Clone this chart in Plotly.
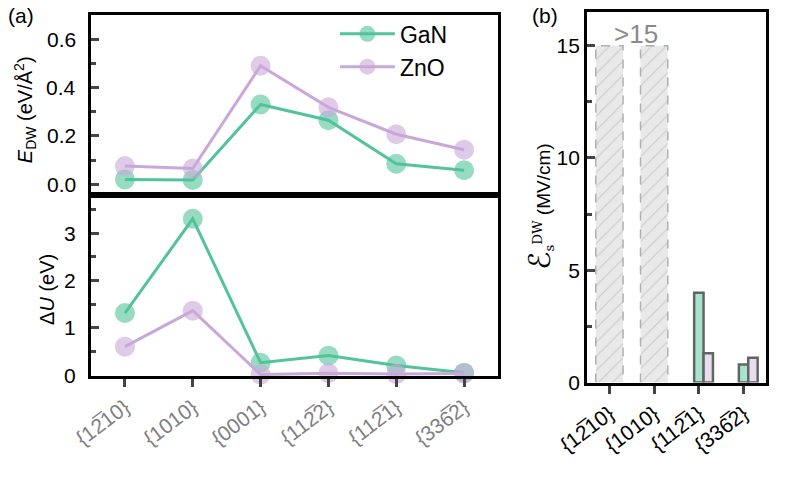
import plotly.graph_objects as go

OL = "\u0305"
planes_a = ["{12" + OL + "10}", "{1010}", "{0001}", "{112" + OL + "2}", "{112" + OL + "1}", "{336" + OL + "2}"]
E_gan = [0.02, 0.018, 0.33, 0.265, 0.085, 0.058]
E_zno = [0.075, 0.065, 0.49, 0.318, 0.207, 0.143]
dU_gan = [1.31, 3.30, 0.26, 0.41, 0.20, 0.05]
dU_zno = [0.60, 1.36, 0.01, 0.04, 0.02, 0.03]
E_ticks = [0.0, 0.2, 0.4, 0.6]
dU_ticks = [0, 1, 2, 3]

planes_b = ["{12" + OL + "10}", "{1010}", "{112" + OL + "1}", "{336" + OL + "2}"]
field_gan = [None, None, 4.0, 0.8]
field_zno = [None, None, 1.3, 1.1]
field_bound = [15, 15, None, None]
field_ticks = [0, 5, 10, 15]

GAN = "#52c39b"
ZNO = "#c9a8d9"
GAN_M = "rgba(82,195,155,0.6)"
ZNO_M = "rgba(201,168,217,0.6)"
FONT = "Liberation Sans, Arial, sans-serif"

xa = list(range(len(planes_a)))
xb = list(range(len(planes_b)))

fig = go.Figure()

def add_line(y, color, mcolor, name, xaxis, yaxis, show):
    fig.add_trace(go.Scatter(
        x=xa, y=y, mode="lines+markers", name=name, showlegend=show,
        line=dict(color=color, width=3),
        marker=dict(size=20, color=mcolor, line=dict(width=0)),
        xaxis=xaxis, yaxis=yaxis, cliponaxis=False))

add_line(E_gan, GAN, GAN_M, "GaN", "x", "y", True)
add_line(E_zno, ZNO, ZNO_M, "ZnO", "x", "y", True)
add_line(dU_gan, GAN, GAN_M, "GaN", "x2", "y2", False)
add_line(dU_zno, ZNO, ZNO_M, "ZnO", "x2", "y2", False)

# panel (b) bars
wb = 0.61
fig.add_trace(go.Bar(
    x=xb, y=field_bound, width=wb, showlegend=False,
    marker=dict(color="#e9e9e9", line=dict(width=0),
                pattern=dict(shape="/", fgcolor="#a8a8a8", bgcolor="#e9e9e9", size=10, solidity=0.1)),
    xaxis="x3", yaxis="y3"))
ox, oy = [], []
for i, v in enumerate(field_bound):
    if v is None:
        continue
    ox += [i - wb / 2, i - wb / 2, i + wb / 2, i + wb / 2, None]
    oy += [0, v, v, 0, None]
fig.add_trace(go.Scatter(x=ox, y=oy, mode="lines", showlegend=False,
                         line=dict(color="#b0b0b0", width=1.5, dash="dash"),
                         xaxis="x3", yaxis="y3", cliponaxis=False))

bw = 0.21
fig.add_trace(go.Bar(
    x=xb, y=field_gan, width=bw, offset=-bw / 2, showlegend=False,
    marker=dict(color="#a9e3cd", line=dict(color="#5f6663", width=2.5)),
    xaxis="x3", yaxis="y3"))
fig.add_trace(go.Bar(
    x=xb, y=field_zno, width=bw, offset=bw / 2, showlegend=False,
    marker=dict(color="#e8dcef", line=dict(color="#5f6663", width=2.5)),
    xaxis="x3", yaxis="y3"))

base = dict(showline=True, linecolor="black", linewidth=3, mirror=True,
            showgrid=False, zeroline=False, automargin=False)
tf = dict(family=FONT, size=21, color="black")

# y tick labels of panel (a) as annotations, placed a bit further from the frame
tick_ann = []
for v in E_ticks:
    tick_ann.append(dict(text=f"{v:.1f}", x=0.099, y=v, xref="paper", yref="y",
                         xanchor="right", yanchor="middle", showarrow=False, font=tf))
for v in dU_ticks:
    tick_ann.append(dict(text=f"{v}", x=0.099, y=v, xref="paper", yref="y2",
                         xanchor="right", yanchor="middle", showarrow=False, font=tf))

fig.update_layout(
    width=788, height=494, margin=dict(l=0, r=0, t=0, b=0),
    plot_bgcolor="white", paper_bgcolor="white",
    font=dict(family=FONT, size=20, color="black"),
    barmode="overlay",
    showlegend=True,
    legend=dict(x=0.425, y=0.975, xanchor="left", yanchor="top",
                bgcolor="rgba(0,0,0,0)", font=dict(size=23, family=FONT),
                tracegroupgap=0, itemwidth=55),
    xaxis=dict(domain=[0.1155, 0.632], range=[-0.5, 5.5], anchor="y",
               showticklabels=False, ticks="", tickvals=xa, **base),
    yaxis=dict(domain=[0.605, 0.9696], range=[-0.045, 0.70], anchor="x",
               tickvals=E_ticks, showticklabels=False,
               ticks="inside", ticklen=8, tickwidth=2.5,
               minor=dict(ticks="inside", ticklen=5, tickwidth=2.5, dtick=0.1, tick0=0),
               **base),
    xaxis2=dict(domain=[0.1155, 0.632], range=[-0.5, 5.5], anchor="y2",
                tickvals=xa, ticktext=planes_a, tickangle=-37,
                ticks="outside", ticklen=8, tickwidth=2.5,
                tickfont=dict(family=FONT, size=21, color="#808080"), **base),
    yaxis2=dict(domain=[0.2389, 0.605], range=[-0.02, 3.8], anchor="x2",
                tickvals=dU_ticks, showticklabels=False,
                ticks="inside", ticklen=8, tickwidth=2.5,
                minor=dict(ticks="inside", ticklen=5, tickwidth=2.5, dtick=0.5, tick0=0),
                **base),
    xaxis3=dict(domain=[0.745, 0.972], range=[-0.5, 3.5], anchor="y3",
                tickvals=xb, ticktext=planes_b, tickangle=-37,
                ticks="outside", ticklen=8, tickwidth=2.5,
                tickfont=dict(family=FONT, size=21, color="black"), **base),
    yaxis3=dict(domain=[0.2257, 0.9757], range=[0, 16.5], anchor="x3",
                tickvals=field_ticks, ticks="inside", ticklen=8, tickwidth=2.5, tickfont=tf,
                minor=dict(ticks="inside", ticklen=5, tickwidth=2.5, dtick=2.5, tick0=0),
                **base),
    annotations=tick_ann + [
        dict(text="<i>E</i><sub>DW</sub> (eV/Å<sup>2</sup>)", x=0.0317, y=0.779,
             xref="paper", yref="paper", xanchor="center", yanchor="middle", textangle=-90,
             showarrow=False, font=dict(size=20)),
        dict(text="Δ<i>U</i> (eV)", x=0.0596, y=0.415,
             xref="paper", yref="paper", xanchor="center", yanchor="middle", textangle=-90,
             showarrow=False, font=dict(size=20)),
        dict(text="<span style='font-family:DejaVu Sans;font-size:30px'>ℰ</span>"
                  "<span style='font-family:DejaVu Serif'><sub>s</sub><sup>DW</sup></span> (MV/cm)",
             x=0.685, y=0.581, xref="paper", yref="paper", xanchor="center", yanchor="middle",
             textangle=-90, showarrow=False, font=dict(size=19)),
        dict(text="(a)", x=0.008, y=0.995, xref="paper", yref="paper", xanchor="left", yanchor="top",
             showarrow=False, font=dict(size=21)),
        dict(text="(b)", x=0.672, y=0.995, xref="paper", yref="paper", xanchor="left", yanchor="top",
             showarrow=False, font=dict(size=21)),
        dict(text=">15", x=0.6, y=15, xref="x3", yref="y3", xanchor="center", yanchor="bottom",
             showarrow=False, font=dict(size=26, color="#8a8a8a"), yshift=-5),
    ],
)

fig.write_html("out.html")
